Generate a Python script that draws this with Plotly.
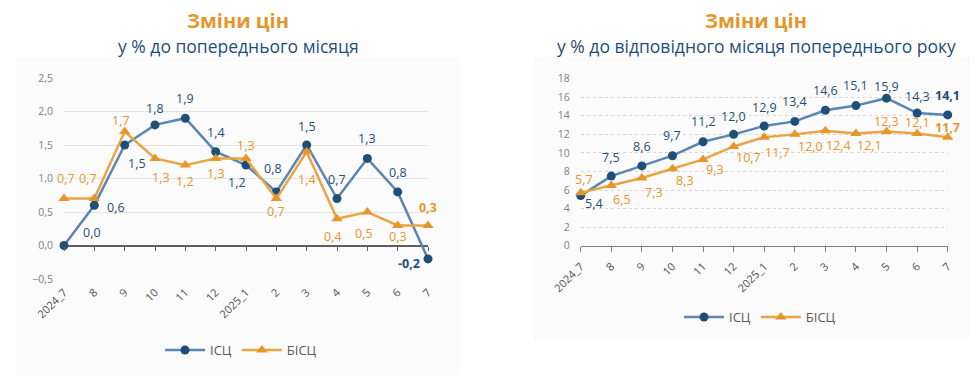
import plotly.graph_objects as go

# ---------------- data ----------------
categories = ["2024_7", "8", "9", "10", "11", "12", "2025_1", "2", "3", "4", "5", "6", "7"]
mom_isc = [0.0, 0.6, 1.5, 1.8, 1.9, 1.4, 1.2, 0.8, 1.5, 0.7, 1.3, 0.8, -0.2]
mom_bisc = [0.7, 0.7, 1.7, 1.3, 1.2, 1.3, 1.3, 0.7, 1.4, 0.4, 0.5, 0.3, 0.3]
yoy_isc = [5.4, 7.5, 8.6, 9.7, 11.2, 12.0, 12.9, 13.4, 14.6, 15.1, 15.9, 14.3, 14.1]
yoy_bisc = [5.7, 6.5, 7.3, 8.3, 9.3, 10.7, 11.7, 12.0, 12.4, 12.1, 12.3, 12.1, 11.7]

series_names = ["ІСЦ", "БІСЦ"]
title_main = "Зміни цін"
subtitle_left = "у % до попереднього місяця"
subtitle_right = "у % до відповідного місяця попереднього року"

# label placements (pixel offsets dx, dy on screen)
off_mom_isc = [(28, -13), (22, 2), (12, 18), (0, -16), (0, -20), (0, -19), (-9, 17),
               (-3, -23), (0, -19), (0, -19), (0, -20), (0, -19), (-19, 5)]
off_mom_bisc = [(2, -20), (-6, -20), (-4, -11), (6, 19), (0, 16), (0, 15), (0, -13),
                (0, 13), (0, 28), (-4, 18), (-3, 21), (0, 11), (0, -18)]
off_yoy_isc = [(13, 8), (0, -19), (0, -19), (0, -20), (0, -20), (0, -18), (0, -19),
               (0, -20), (0, -20), (0, -20), (0, -12), (0, -17), (0, -19)]
off_yoy_bisc = [(3, -13), (11, 14), (12, 15), (13, 12), (12, 10), (15, 11), (13, 15),
                (16, 12), (13, 15), (14, 12), (0, -10), (0, -11), (0, -10)]

# ---------------- styles ----------------
FONT = "Open Sans"
BLUE_LINE = "#5B85B3"
BLUE_MARK = "#1F4E79"
ORANGE_LINE = "#E9A545"
ORANGE_MARK = "#E8952A"
BLUE_TXT = "#1F4E79"
ORANGE_TXT = "#E8952A"
TITLE_ORANGE = "#E3962D"
PAGE_W, PAGE_H = 978, 375
BODY = 8  # default page body margin
W, H = PAGE_W - BODY, PAGE_H - BODY

def px_x(p):
    return (p - BODY) / W

def px_y(p):
    return (PAGE_H - p) / H

def fmt(v):
    return f"{v:.1f}".replace(".", ",")

fig = go.Figure()

# left chart traces
fig.add_trace(go.Scatter(x=categories, y=mom_isc, name=series_names[0], mode="lines+markers",
                         line=dict(color=BLUE_LINE, width=2.5),
                         marker=dict(color=BLUE_MARK, size=9, symbol="circle"),
                         xaxis="x", yaxis="y", cliponaxis=False, legend="legend"))
fig.add_trace(go.Scatter(x=categories, y=mom_bisc, name=series_names[1], mode="lines+markers",
                         line=dict(color=ORANGE_LINE, width=2.5),
                         marker=dict(color=ORANGE_MARK, size=10, symbol="triangle-up"),
                         xaxis="x", yaxis="y", cliponaxis=False, legend="legend"))
# right chart traces
fig.add_trace(go.Scatter(x=categories, y=yoy_isc, name=series_names[0], mode="lines+markers",
                         line=dict(color=BLUE_LINE, width=2.5),
                         marker=dict(color=BLUE_MARK, size=9, symbol="circle"),
                         xaxis="x2", yaxis="y2", cliponaxis=False, legend="legend2"))
fig.add_trace(go.Scatter(x=categories, y=yoy_bisc, name=series_names[1], mode="lines+markers",
                         line=dict(color=ORANGE_LINE, width=2.5),
                         marker=dict(color=ORANGE_MARK, size=10, symbol="triangle-up"),
                         xaxis="x2", yaxis="y2", cliponaxis=False, legend="legend2"))
# dummy trace so the tick-only overlay axis is rendered
fig.add_trace(go.Scatter(x=[None], y=[None], xaxis="x3", yaxis="y", showlegend=False,
                         hoverinfo="skip"))

annotations = []

def add_labels(values, offsets, color, xref, yref):
    n = len(values)
    for i, v in enumerate(values):
        dx, dy = offsets[i]
        bold = i == n - 1
        txt = f"<b>{fmt(v)}</b>" if bold else fmt(v)
        annotations.append(dict(x=i, y=v, xref=xref, yref=yref, text=txt, showarrow=False,
                                xshift=dx, yshift=-dy,
                                font=dict(family=FONT, size=12.5, color=color)))

add_labels(mom_isc, off_mom_isc, BLUE_TXT, "x", "y")
add_labels(mom_bisc, off_mom_bisc, ORANGE_TXT, "x", "y")
add_labels(yoy_isc, off_yoy_isc, BLUE_TXT, "x2", "y2")
add_labels(yoy_bisc, off_yoy_bisc, ORANGE_TXT, "x2", "y2")

# titles
for cx, sub, ssize in [(238, subtitle_left, 17.5), (756, subtitle_right, 17.5)]:
    annotations.append(dict(x=px_x(cx), y=px_y(21), xref="paper", yref="paper", text=f"<b>{title_main}</b>",
                            showarrow=False, xanchor="center", yanchor="middle",
                            font=dict(family=FONT, size=20, color=TITLE_ORANGE)))
    annotations.append(dict(x=px_x(cx), y=px_y(46), xref="paper", yref="paper", text=sub,
                            showarrow=False, xanchor="center", yanchor="middle",
                            font=dict(family=FONT, size=ssize, color=BLUE_TXT)))

shapes = [
    dict(type="rect", xref="paper", yref="paper", x0=px_x(16), x1=px_x(460), y0=px_y(375), y1=px_y(57),
         fillcolor="#FBFBFB", line=dict(width=0), layer="below"),
    dict(type="rect", xref="paper", yref="paper", x0=px_x(533), x1=px_x(978), y0=px_y(340), y1=px_y(57),
         fillcolor="#FBFBFB", line=dict(width=0), layer="below"),
]

tickfont_x = dict(family=FONT, size=11, color="#505050")
tickfont_y = dict(family=FONT, size=10.5, color="#808080")

fig.update_layout(
    width=W, height=H,
    margin=dict(l=0, r=0, t=0, b=0, autoexpand=False),
    paper_bgcolor="white", plot_bgcolor="rgba(0,0,0,0)",
    separators=", ",
    font=dict(family=FONT),
    annotations=annotations,
    shapes=shapes,
    xaxis=dict(domain=[px_x(64), px_x(428)], type="category", range=[0, 12], anchor="y",
               showgrid=False, showline=False, zeroline=False, ticks="", tickangle=-45,
               tickfont=tickfont_x, ticklabelstandoff=4, automargin=False),
    xaxis3=dict(overlaying="x", anchor="free", position=px_y(246), range=[0, 12],
                tickvals=list(range(len(categories))), ticks="outside", ticklen=4, tickwidth=1,
                tickcolor="#606060", showticklabels=False, showgrid=False, showline=False,
                zeroline=False, automargin=False),
    yaxis=dict(domain=[px_y(279), px_y(78)], range=[-0.5, 2.5], dtick=0.5, tickformat=".1f",
               anchor="x", showgrid=True, gridcolor="#E4E4E4", gridwidth=1,
               zeroline=True, zerolinecolor="#5F5F5F", zerolinewidth=2,
               showline=False, ticks="", tickfont=tickfont_y, ticklabelstandoff=10,
               automargin=False),
    xaxis2=dict(domain=[px_x(580.7), px_x(947.7)], type="category", range=[0, 12], anchor="y2",
                showgrid=False, showline=True, linecolor="#808080", linewidth=1, zeroline=False,
                ticks="outside", ticklen=5, tickcolor="#808080", tickangle=-45,
                tickfont=tickfont_x, ticklabelstandoff=4, automargin=False),
    yaxis2=dict(domain=[px_y(245.7), px_y(78.7)], range=[0, 18], dtick=2, anchor="x2",
                showgrid=True, gridcolor="#D6D6D6", griddash="dot", gridwidth=1,
                zeroline=False, showline=False, ticks="", tickfont=tickfont_y, ticklabelstandoff=10,
                automargin=False),
    legend=dict(orientation="h", x=px_x(241), y=px_y(350), xanchor="center", yanchor="middle",
                font=dict(family=FONT, size=13, color="#595959"), bgcolor="rgba(0,0,0,0)",
                itemwidth=40),
    legend2=dict(orientation="h", x=px_x(760), y=px_y(317), xanchor="center", yanchor="middle",
                 font=dict(family=FONT, size=13, color="#595959"), bgcolor="rgba(0,0,0,0)",
                 itemwidth=40),
)

fig.write_html("out.html")
